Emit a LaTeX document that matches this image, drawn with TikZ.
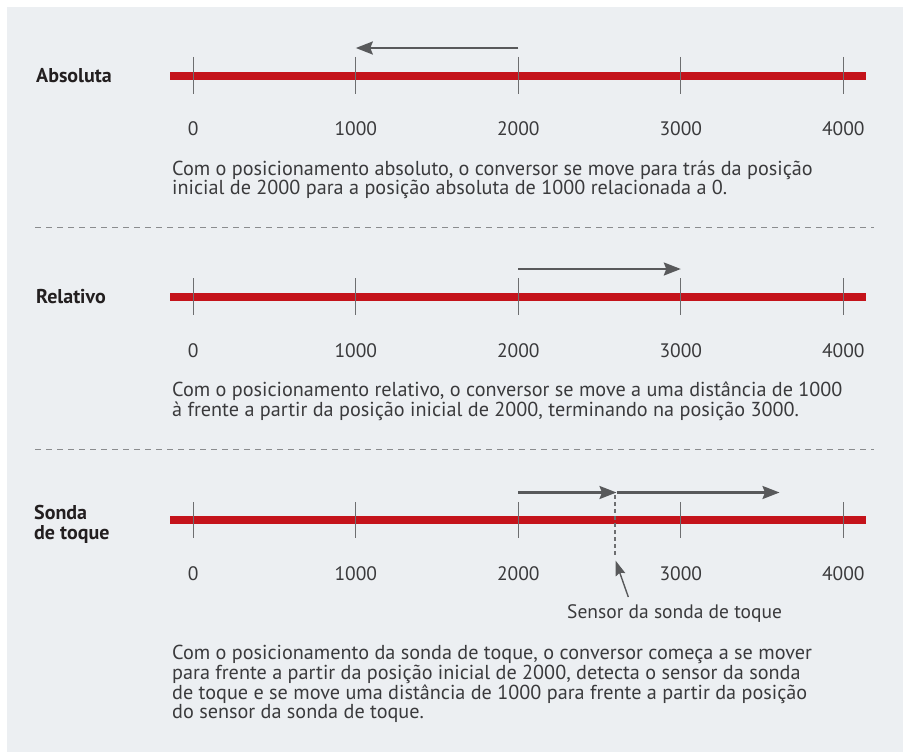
\documentclass[tikz,border=0pt]{standalone}
\usepackage{fontspec}
\setmainfont{PT Sans}
\usetikzlibrary{arrows.meta}
\definecolor{panel}{HTML}{ECEFF2}
\definecolor{barred}{HTML}{C4131B}
\definecolor{arrgray}{HTML}{58595B}
\definecolor{tickgray}{HTML}{6D6E70}
\definecolor{sepgray}{HTML}{8A8C8E}
\definecolor{txt}{HTML}{3A3A3C}
\definecolor{lbl}{HTML}{231F20}
\tikzset{
  bar/.style={draw=barred, line width=8pt},
  tickline/.style={draw=tickgray, line width=1.2pt},
  movearrow/.style={draw=arrgray, line width=2.2pt, -{Stealth[length=17pt,width=13pt,inset=2.5pt]}},
  pointer/.style={draw=arrgray, line width=1.4pt, -{Stealth[length=15pt,width=10pt,inset=2pt]}},
  sep/.style={draw=sepgray, line width=1pt, dash pattern=on 6pt off 5pt},
  probe/.style={draw=tickgray, line width=1.3pt, dash pattern=on 4pt off 3pt},
  numlbl/.style={font=\fontsize{19.5}{20}\selectfont, text=txt, inner sep=0pt, anchor=base},
  rowlbl/.style={font=\fontsize{20}{20}\selectfont\bfseries, text=lbl, inner sep=0pt, anchor=base west, align=left},
  para/.style={font=\fontsize{20.2}{17.8}\selectfont, text=txt, inner sep=0pt, anchor=base west, align=left},
}
\begin{document}
\begin{tikzpicture}[x=1pt,y=-1pt]
\useasboundingbox (0,0) rectangle (909,752);
\fill[panel] (7,7) rectangle (903,752);

% ---------- Row 1: Absoluta ----------
\node[rowlbl] (l1) at (36,82) {Absoluta};
\coordinate (b1s) at (170,76); \coordinate (b1e) at (866,76);
\draw[bar] (b1s) -- (b1e);
\foreach \i/\v in {0/0,1/1000,2/2000,3/3000,4/4000}{
  \coordinate (t1\i) at ({193.3+162.5*\i},57);
  \coordinate (u1\i) at ({193.3+162.5*\i},94);
  \draw[tickline] (t1\i) -- (u1\i);
  \node[numlbl] (n1\i) at ({193.3+162.5*\i},135) {\v};
}
\coordinate (a1s) at (518.3,48); \coordinate (a1e) at (355.8,48);
\draw[movearrow] (a1s) -- (a1e);
% base anchor of a multi-line node = baseline of its last line
\node[para] (p1) at (172,194.8) {Com o posicionamento absoluto, o conversor se move para trás da posição\\inicial de 2000 para a posição absoluta de 1000 relacionada a 0.};
\coordinate (d1s) at (35,227); \coordinate (d1e) at (874,227);
\draw[sep] (d1s) -- (d1e);

% ---------- Row 2: Relativo ----------
\node[rowlbl] (l2) at (36,303) {Relativo};
\coordinate (b2s) at (170,297); \coordinate (b2e) at (866,297);
\draw[bar] (b2s) -- (b2e);
\foreach \i/\v in {0/0,1/1000,2/2000,3/3000,4/4000}{
  \coordinate (t2\i) at ({193.3+162.5*\i},278);
  \coordinate (u2\i) at ({193.3+162.5*\i},315);
  \draw[tickline] (t2\i) -- (u2\i);
  \node[numlbl] (n2\i) at ({193.3+162.5*\i},357) {\v};
}
\coordinate (a2s) at (518.3,269); \coordinate (a2e) at (680.8,269);
\draw[movearrow] (a2s) -- (a2e);
\node[para] (p2) at (172,416.3) {Com o posicionamento relativo, o conversor se move a uma distância de 1000\\à frente a partir da posição inicial de 2000, terminando na posição 3000.};
\coordinate (d2s) at (35,449); \coordinate (d2e) at (874,449);
\draw[sep] (d2s) -- (d2e);

% ---------- Row 3: Sonda de toque ----------
\node[rowlbl] (l3) at (34,539.5) {Sonda\\de toque};
\coordinate (b3s) at (170,520); \coordinate (b3e) at (866,520);
\draw[bar] (b3s) -- (b3e);
\foreach \i/\v in {0/0,1/1000,2/2000,3/3000,4/4000}{
  \coordinate (t3\i) at ({193.3+162.5*\i},502);
  \coordinate (u3\i) at ({193.3+162.5*\i},538);
  \draw[tickline] (t3\i) -- (u3\i);
  \node[numlbl] (n3\i) at ({193.3+162.5*\i},580) {\v};
}
\coordinate (a3s) at (518.3,492.5); \coordinate (sens) at (616.5,492.5);
\coordinate (a3e) at (779.5,492.5);
\draw[movearrow] (a3s) -- (sens);
\draw[movearrow] (sens) -- (a3e);
\coordinate (pv) at (615,495); \coordinate (pb) at (615,556);
\draw[probe] (pv) -- (pb);
\coordinate (ptail) at (628.3,597); \coordinate (ptip) at (615.5,560.5);
\draw[pointer] (ptail) -- (ptip);
\node[numlbl, anchor=base west] (sl) at (567,618) {Sensor da sonda de toque};
\node[para] (p3) at (172,718.4) {Com o posicionamento da sonda de toque, o conversor começa a se mover\\para frente a partir da posição inicial de 2000, detecta o sensor da sonda\\de toque e se move uma distância de 1000 para frente a partir da posição\\do sensor da sonda de toque.};
\end{tikzpicture}
\end{document}
